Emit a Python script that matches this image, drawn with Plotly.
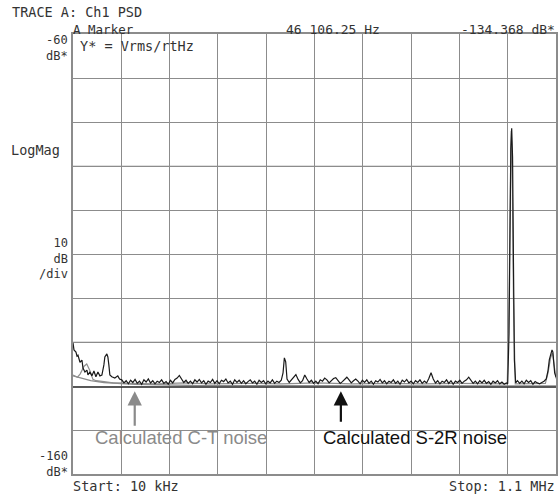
import plotly.graph_objects as go

# ---------------- data (frequency in kHz, level in dB) ----------------
# low-frequency start of the measured (black) trace
lowband_freq = [10, 12.2, 16.7, 19, 21.2, 25.7, 30.2, 32.5, 37, 41.5, 43.7, 48.2, 52.7, 57.2, 61.7,
                66.2, 70.7, 75.2, 79.7, 81.9, 86.4, 88.7, 90.9, 93.2, 97.6, 104.4, 111.1, 115]
lowband_db = [-130.2, -131.8, -132.3, -133.2, -133.0, -134.6, -134.1, -135.9, -136.8, -136.4, -137.5,
              -136.8, -137.7, -136.6, -137.9, -136.8, -137.7, -137.5, -135.2, -133.4, -132.7, -133.4,
              -135.2, -137.5, -137.9, -138.2, -137.7, -138.4]

# noise floor 120..480 kHz, one reading every 5 kHz
floor_a_start, floor_a_step = 120, 5
floor_a_db = [-138.6, -139.3, -138.8, -139.5, -138.7, -139.2, -138.5, -139.4, -138.9, -139.6,
              -138.6, -139.1, -138.4, -139.3, -138.8, -139.5, -138.9, -139.2, -138.6, -139.4,
              -139.0, -139.6, -138.7, -139.3, -138.5, -138.2, -137.6, -138.4, -139.2, -138.7,
              -139.4, -138.9, -139.5, -138.6, -139.1, -138.5, -139.3, -138.8, -139.6, -138.9,
              -139.2, -138.5, -139.4, -138.8, -139.5, -138.7, -139.0, -138.4, -139.3, -138.9,
              -139.6, -138.6, -139.2, -138.7, -139.4, -138.8, -139.5, -139.0, -138.6, -139.3,
              -138.9, -139.6, -138.7, -139.2, -138.8, -139.5, -138.9, -139.3, -138.6, -139.4,
              -138.9, -139.2, -138.7]

spur1_freq = [484, 487, 490, 493]
spur1_db = [-137.0, -133.6, -134.5, -138.4]

# noise floor 498..988 kHz, one reading every 5 kHz
floor_b_start, floor_b_step = 498, 5
floor_b_db = [-139.2, -138.6, -138.2, -137.4, -138.5, -139.3, -138.8, -137.5, -138.4, -139.2,
              -138.7, -139.4, -138.9, -139.5, -138.6, -138.9, -138.2, -138.6, -139.3, -138.7,
              -138.3, -138.1, -138.7, -139.4, -139.0, -138.5, -138.0, -138.6, -139.3, -138.8,
              -138.4, -138.9, -139.5, -138.7, -139.2, -138.6, -139.4, -138.9, -139.6, -138.8,
              -139.1, -138.5, -139.3, -138.8, -139.5, -138.9, -139.2, -138.6, -139.4, -138.9,
              -139.6, -138.7, -139.1, -138.5, -139.3, -138.9, -139.5, -138.8, -139.2, -138.6,
              -139.4, -138.9, -139.3, -138.3, -137.0, -138.4, -139.3, -138.8, -139.5, -138.9,
              -139.2, -138.6, -139.4, -138.8, -139.6, -138.9, -139.2, -138.7, -139.4, -138.9,
              -138.6, -138.0, -138.8, -139.4, -138.9, -139.5, -138.8, -139.3, -138.7, -139.4,
              -139.0, -139.6, -138.9, -139.3, -138.8, -139.5, -139.1, -139.6, -139.3]

carrier_freq = [991, 994, 996, 998, 1000, 1002, 1004, 1006, 1009]
carrier_db = [-139.5, -128.0, -104.0, -86.0, -81.4, -88.0, -112.0, -134.0, -139.3]

floor_c_start, floor_c_step = 1013, 5
floor_c_db = [-138.8, -139.4, -138.9, -139.5, -138.7, -139.2, -138.8, -139.6, -139.0, -139.3,
              -139.5, -139.2, -138.9, -138.4]

edge_freq = [1082, 1085, 1088, 1091, 1093, 1095, 1097, 1100]
edge_db = [-136.5, -134.0, -132.5, -131.8, -132.3, -134.5, -137.0, -138.0]

# second (grey) measured trace
freq_gray = [10, 20, 26, 35, 41, 48, 55, 62, 80, 100, 140, 200, 260, 320, 400, 480, 560, 640,
             720, 800, 880, 960, 990, 994, 997, 999, 1001, 1004, 1008, 1040, 1076, 1082, 1088,
             1092, 1096, 1100]
db_gray = [-137.5, -138.0, -137.3, -135.5, -135.0, -136.5, -138.5, -138.8, -139.0, -139.3,
           -139.4, -139.5, -139.3, -139.5, -139.4, -139.5, -139.3, -139.5, -139.4, -139.5,
           -139.4, -139.5, -139.5, -120.0, -92.0, -82.0, -90.0, -120.0, -139.5, -139.4, -139.4,
           -137.0, -133.5, -132.5, -135.5, -138.3]

# calculated noise lines
calc_ct_freq = [10, 30, 50, 80, 150, 300, 1100]
calc_ct_db = [-137.7, -138.3, -138.8, -139.2, -139.6, -139.9, -140.0]
calc_s2r_freq = [10, 1100]
calc_s2r_db = [-140.25, -140.25]

x_range = [10, 1100]
y_range = [-160, -60]
x_div = 109
y_div = 10
light_grid_db = [-90, -130]

# ---------------- assemble black trace ----------------
freq_black = list(lowband_freq)
db_black = list(lowband_db)
freq_black += [floor_a_start + floor_a_step * i for i in range(len(floor_a_db))]
db_black += floor_a_db
freq_black += spur1_freq
db_black += spur1_db
freq_black += [floor_b_start + floor_b_step * i for i in range(len(floor_b_db))]
db_black += floor_b_db
freq_black += carrier_freq
db_black += carrier_db
freq_black += [floor_c_start + floor_c_step * i for i in range(len(floor_c_db))]
db_black += floor_c_db
freq_black += edge_freq
db_black += edge_db

fig = go.Figure()
fig.add_trace(go.Scatter(x=calc_ct_freq, y=calc_ct_db, mode="lines",
                         line=dict(color="#8a8a8a", width=1.3), hoverinfo="skip"))
fig.add_trace(go.Scatter(x=calc_s2r_freq, y=calc_s2r_db, mode="lines",
                         line=dict(color="#222222", width=1.3), hoverinfo="skip"))
fig.add_trace(go.Scatter(x=freq_gray, y=db_gray, mode="lines",
                         line=dict(color="#8f8f8f", width=1.2), hoverinfo="skip"))
fig.add_trace(go.Scatter(x=freq_black, y=db_black, mode="lines",
                         line=dict(color="#1a1a1a", width=1.2), hoverinfo="skip"))

for v in light_grid_db:
    fig.add_shape(type="line", xref="paper", yref="y", x0=0, x1=1, y0=v, y1=v,
                  line=dict(color="#d4d4d4", width=1.5), layer="below")

mono = "DejaVu Sans Mono"
tc = "#333333"
L, R, T, B = 73, 558, 34, 474


def px(xp):
    return (xp - L) / (R - L)


def py(yp):
    return (B - yp) / (B - T)


labels = [
    ("TRACE A: Ch1 PSD", 10, 12, "left", 13.5),
    ("A Marker", 71, 29.5, "left", 12.5),
    ("46 106.25 Hz", 285, 29.5, "left", 13),
    ("-134.368 dB*", 559, 29.5, "right", 13),
    ("-60<br>dB*", 70, 48, "right", 12),
    ("Y* = Vrms/rtHz", 78, 46, "left", 13.5),
    ("LogMag", 9, 150, "left", 13.5),
    ("10<br>dB<br>/div", 70, 258, "right", 12),
    ("-160<br>dB*", 70, 464, "right", 12),
    ("Start: 10 kHz", 71, 486, "left", 13.5),
    ("Stop: 1.1 MHz", 559, 486, "right", 13.5),
]
for text, xp, yp, anc, fs in labels:
    fig.add_annotation(text=text, xref="paper", yref="paper", x=px(xp), y=py(yp),
                       xanchor=anc, yanchor="middle", showarrow=False,
                       align="right" if anc == "right" else "left",
                       font=dict(family=mono, size=fs, color=tc))

# arrows
fig.add_annotation(x=149.3, y=-141.2, xref="x", yref="y", ax=0, ay=36,
                   showarrow=True, arrowhead=2, arrowsize=1.3, arrowwidth=2.2, arrowcolor="#8a8a8a",
                   text="")
fig.add_annotation(x=614.5, y=-141.2, xref="x", yref="y", ax=0, ay=32,
                   showarrow=True, arrowhead=2, arrowsize=1.3, arrowwidth=2.2, arrowcolor="#111111",
                   text="")
fig.add_annotation(text="Calculated C-T noise", xref="paper", yref="paper", x=px(181), y=py(437),
                   xanchor="center", yanchor="middle", showarrow=False,
                   font=dict(family="Liberation Sans", size=18.5, color="#8a8a8a"))
fig.add_annotation(text="Calculated S-2R noise", xref="paper", yref="paper", x=px(416), y=py(437),
                   xanchor="center", yanchor="middle", showarrow=False,
                   font=dict(family="Liberation Sans", size=18.5, color="#111111"))

fig.update_xaxes(range=x_range, tick0=10, dtick=x_div, showticklabels=False, ticks="",
                 showgrid=True, gridcolor="#8c8c8c", gridwidth=1, zeroline=False,
                 showline=True, linecolor="#8c8c8c", linewidth=1.5, mirror=True, fixedrange=True)
fig.update_yaxes(range=y_range, tick0=-160, dtick=y_div, showticklabels=False, ticks="",
                 showgrid=True, gridcolor="#8c8c8c", gridwidth=1, zeroline=False,
                 showline=True, linecolor="#8c8c8c", linewidth=1.5, mirror=True, fixedrange=True)

fig.update_layout(width=559, height=495, margin=dict(l=L, r=559 - R, t=T, b=495 - B),
                  plot_bgcolor="white", paper_bgcolor="white", showlegend=False)

fig.write_html("out.html")
